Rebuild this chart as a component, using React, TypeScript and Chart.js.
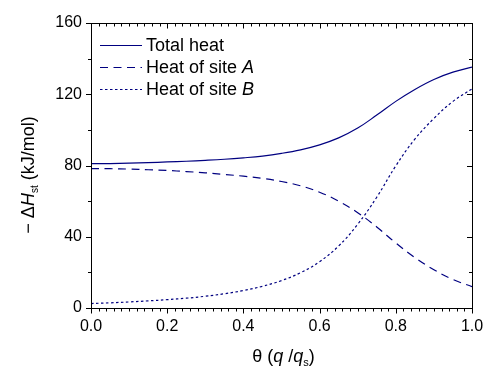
import React, { useEffect, useRef } from "react";
import { Chart, registerables } from "chart.js";

Chart.register(...registerables);

// Coverage θ = q/qs
const theta = [0, 0.05, 0.1, 0.15, 0.2, 0.25, 0.3, 0.35, 0.4, 0.45, 0.5, 0.55, 0.6, 0.65, 0.7, 0.75, 0.8, 0.85, 0.9, 0.95, 1.0];
const totalHeat = [81.0, 81.1, 81.3, 81.6, 82.0, 82.4, 82.9, 83.5, 84.3, 85.3, 86.8, 88.8, 91.6, 95.5, 101.0, 108.3, 116.0, 122.7, 128.3, 132.4, 135.2];
const siteA = [78.3, 78.2, 78.0, 77.6, 77.2, 76.6, 75.9, 75.0, 74.0, 72.8, 71.0, 68.6, 65.0, 60.0, 53.5, 45.5, 36.5, 28.3, 21.5, 16.0, 12.0];
const siteB = [2.5, 2.9, 3.4, 4.0, 4.7, 5.5, 6.6, 8.0, 9.8, 12.2, 15.4, 19.8, 26.0, 34.8, 47.0, 62.2, 79.8, 94.8, 106.4, 116.0, 123.0];

const xTicks = [0, 0.2, 0.4, 0.6, 0.8, 1.0];
const yTicks = [0, 40, 80, 120, 160];

// legend: [plain part, italic part]
const legendLabels: [string, string][] = [
  ["Total heat", ""],
  ["Heat of site ", "A"],
  ["Heat of site ", "B"],
];

const FONT = '"Liberation Sans", Arial, Helvetica, sans-serif';
const NAVY = "#000080";
const dashes = [[], [8, 5.5], [2.5, 2.5]];

export default function App() {
  const ref = useRef<HTMLCanvasElement>(null);

  useEffect(() => {
    const series = [totalHeat, siteA, siteB];
    const frame = {
      id: "frameDeco",
      afterDraw(chart: any) {
        const { ctx, chartArea } = chart;
        const { left, right, top, bottom } = chartArea;
        const xs = chart.scales.x;
        const ys = chart.scales.y;
        ctx.save();
        ctx.strokeStyle = "#000";
        ctx.lineWidth = 1;
        ctx.strokeRect(Math.round(left) + 0.5, Math.round(top) + 0.5, Math.round(right - left), Math.round(bottom - top));
        ctx.beginPath();
        for (let i = 0; i <= 50; i++) {
          const v = i * 0.02;
          const px = Math.round(xs.getPixelForValue(v)) + 0.5;
          const len = i % 10 === 0 ? 5 : 3;
          ctx.moveTo(px, Math.round(bottom));
          ctx.lineTo(px, Math.round(bottom) + len + 0.5);
          ctx.moveTo(px, Math.round(top));
          ctx.lineTo(px, Math.round(top) + len + 0.5);
        }
        for (let i = 0; i <= 8; i++) {
          const v = i * 20;
          const py = Math.round(ys.getPixelForValue(v)) + 0.5;
          const len = i % 2 === 0 ? 5 : 3;
          ctx.moveTo(Math.round(left) - len, py);
          ctx.lineTo(Math.round(left) + 0.5, py);
          ctx.moveTo(Math.round(right) - len, py);
          ctx.lineTo(Math.round(right) + 0.5, py);
        }
        ctx.stroke();

        // x title: θ (q /qs)
        ctx.fillStyle = "#000";
        ctx.textBaseline = "alphabetic";
        const parts: [string, string, number][] = [
          ["θ (", "", 18],
          ["q", "italic ", 18],
          [" /", "", 18],
          ["q", "italic ", 18],
        ];
        let w = 0;
        for (const [t, st, sz] of parts) {
          ctx.font = `${st}${sz}px ${FONT}`;
          w += ctx.measureText(t).width;
        }
        ctx.font = `11px ${FONT}`;
        const wsub = ctx.measureText("s").width;
        ctx.font = `18px ${FONT}`;
        const wclose = ctx.measureText(")").width;
        const total = w + wsub + wclose;
        let x = (left + right) / 2 - total / 2 + 2;
        const baseY = 362;
        for (const [t, st, sz] of parts) {
          ctx.font = `${st}${sz}px ${FONT}`;
          ctx.fillText(t, x, baseY);
          x += ctx.measureText(t).width;
        }
        ctx.font = `11px ${FONT}`;
        ctx.fillText("s", x, baseY + 4);
        x += wsub;
        ctx.font = `18px ${FONT}`;
        ctx.fillText(")", x, baseY);

        // y title: − ΔHst (kJ/mol)
        ctx.save();
        ctx.translate(34, 175);
        ctx.rotate(-Math.PI / 2);
        const yparts: [string, string, number, number][] = [
          ["− Δ", "", 18, 0],
          ["H", "italic ", 18, 0],
          ["st", "", 10, 4],
          [" (kJ/mol)", "", 18, 0],
        ];
        let yw = 0;
        for (const [t, st, sz] of yparts) {
          ctx.font = `${st}${sz}px ${FONT}`;
          yw += ctx.measureText(t).width;
        }
        let yx = -yw / 2;
        for (const [t, st, sz, dy] of yparts) {
          ctx.font = `${st}${sz}px ${FONT}`;
          ctx.fillText(t, yx, dy);
          yx += ctx.measureText(t).width;
        }
        ctx.restore();

        // legend
        const rows = [45, 67, 89];
        legendLabels.forEach(([plain, ital], i) => {
          const yy = rows[i];
          ctx.strokeStyle = NAVY;
          ctx.lineWidth = 1.2;
          ctx.setLineDash(dashes[i]);
          ctx.beginPath();
          ctx.moveTo(100, yy + 0.5);
          ctx.lineTo(142, yy + 0.5);
          ctx.stroke();
          ctx.setLineDash([]);
          ctx.fillStyle = "#000";
          ctx.textBaseline = "middle";
          ctx.font = `18px ${FONT}`;
          ctx.fillText(plain, 146, yy + 1);
          const pw = ctx.measureText(plain).width;
          if (ital) {
            ctx.font = `italic 18px ${FONT}`;
            ctx.fillText(ital, 146 + pw, yy + 1);
          }
        });
        ctx.restore();
      },
    };

    const chart = new Chart(ref.current!, {
      type: "line",
      data: {
        datasets: series.map((s, i) => ({
          label: legendLabels[i].join(""),
          data: theta.map((t, j) => ({ x: t, y: s[j] })),
          borderColor: NAVY,
          borderWidth: 1.2,
          borderDash: dashes[i],
          pointRadius: 0,
          fill: false,
          tension: 0.4,
        })),
      },
      options: {
        animation: false,
        responsive: true,
        maintainAspectRatio: false,
        layout: { padding: { left: 0, right: 12, top: 23, bottom: 0 } },
        plugins: { legend: { display: false }, tooltip: { enabled: false } },
        scales: {
          x: {
            type: "linear",
            min: 0,
            max: 1,
            afterFit: (s: any) => { s.height = 62; s.paddingLeft = 0; s.paddingRight = 0; },
            afterBuildTicks: (s: any) => { s.ticks = xTicks.map((v) => ({ value: v })); },
            grid: { display: false, drawTicks: false },
            border: { display: false },
            ticks: {
              padding: 9,
              color: "#000",
              font: { family: FONT, size: 16 },
              maxRotation: 0,
              callback: (v: any) => Number(v).toFixed(1),
            },
          },
          y: {
            type: "linear",
            min: 0,
            max: 160,
            afterFit: (s: any) => { s.width = 91; s.paddingTop = 0; s.paddingBottom = 0; },
            afterBuildTicks: (s: any) => { s.ticks = yTicks.map((v) => ({ value: v })); },
            grid: { display: false, drawTicks: false },
            border: { display: false },
            ticks: {
              padding: 9,
              color: "#000",
              font: { family: FONT, size: 16 },
              callback: (v: any) => String(v),
            },
          },
        },
      },
      plugins: [frame],
    });
    return () => chart.destroy();
  }, []);

  return (
    <div style={{ position: "absolute", left: 0, top: 0, width: 484, height: 370, background: "#fff" }}>
      <canvas ref={ref} />
    </div>
  );
}
